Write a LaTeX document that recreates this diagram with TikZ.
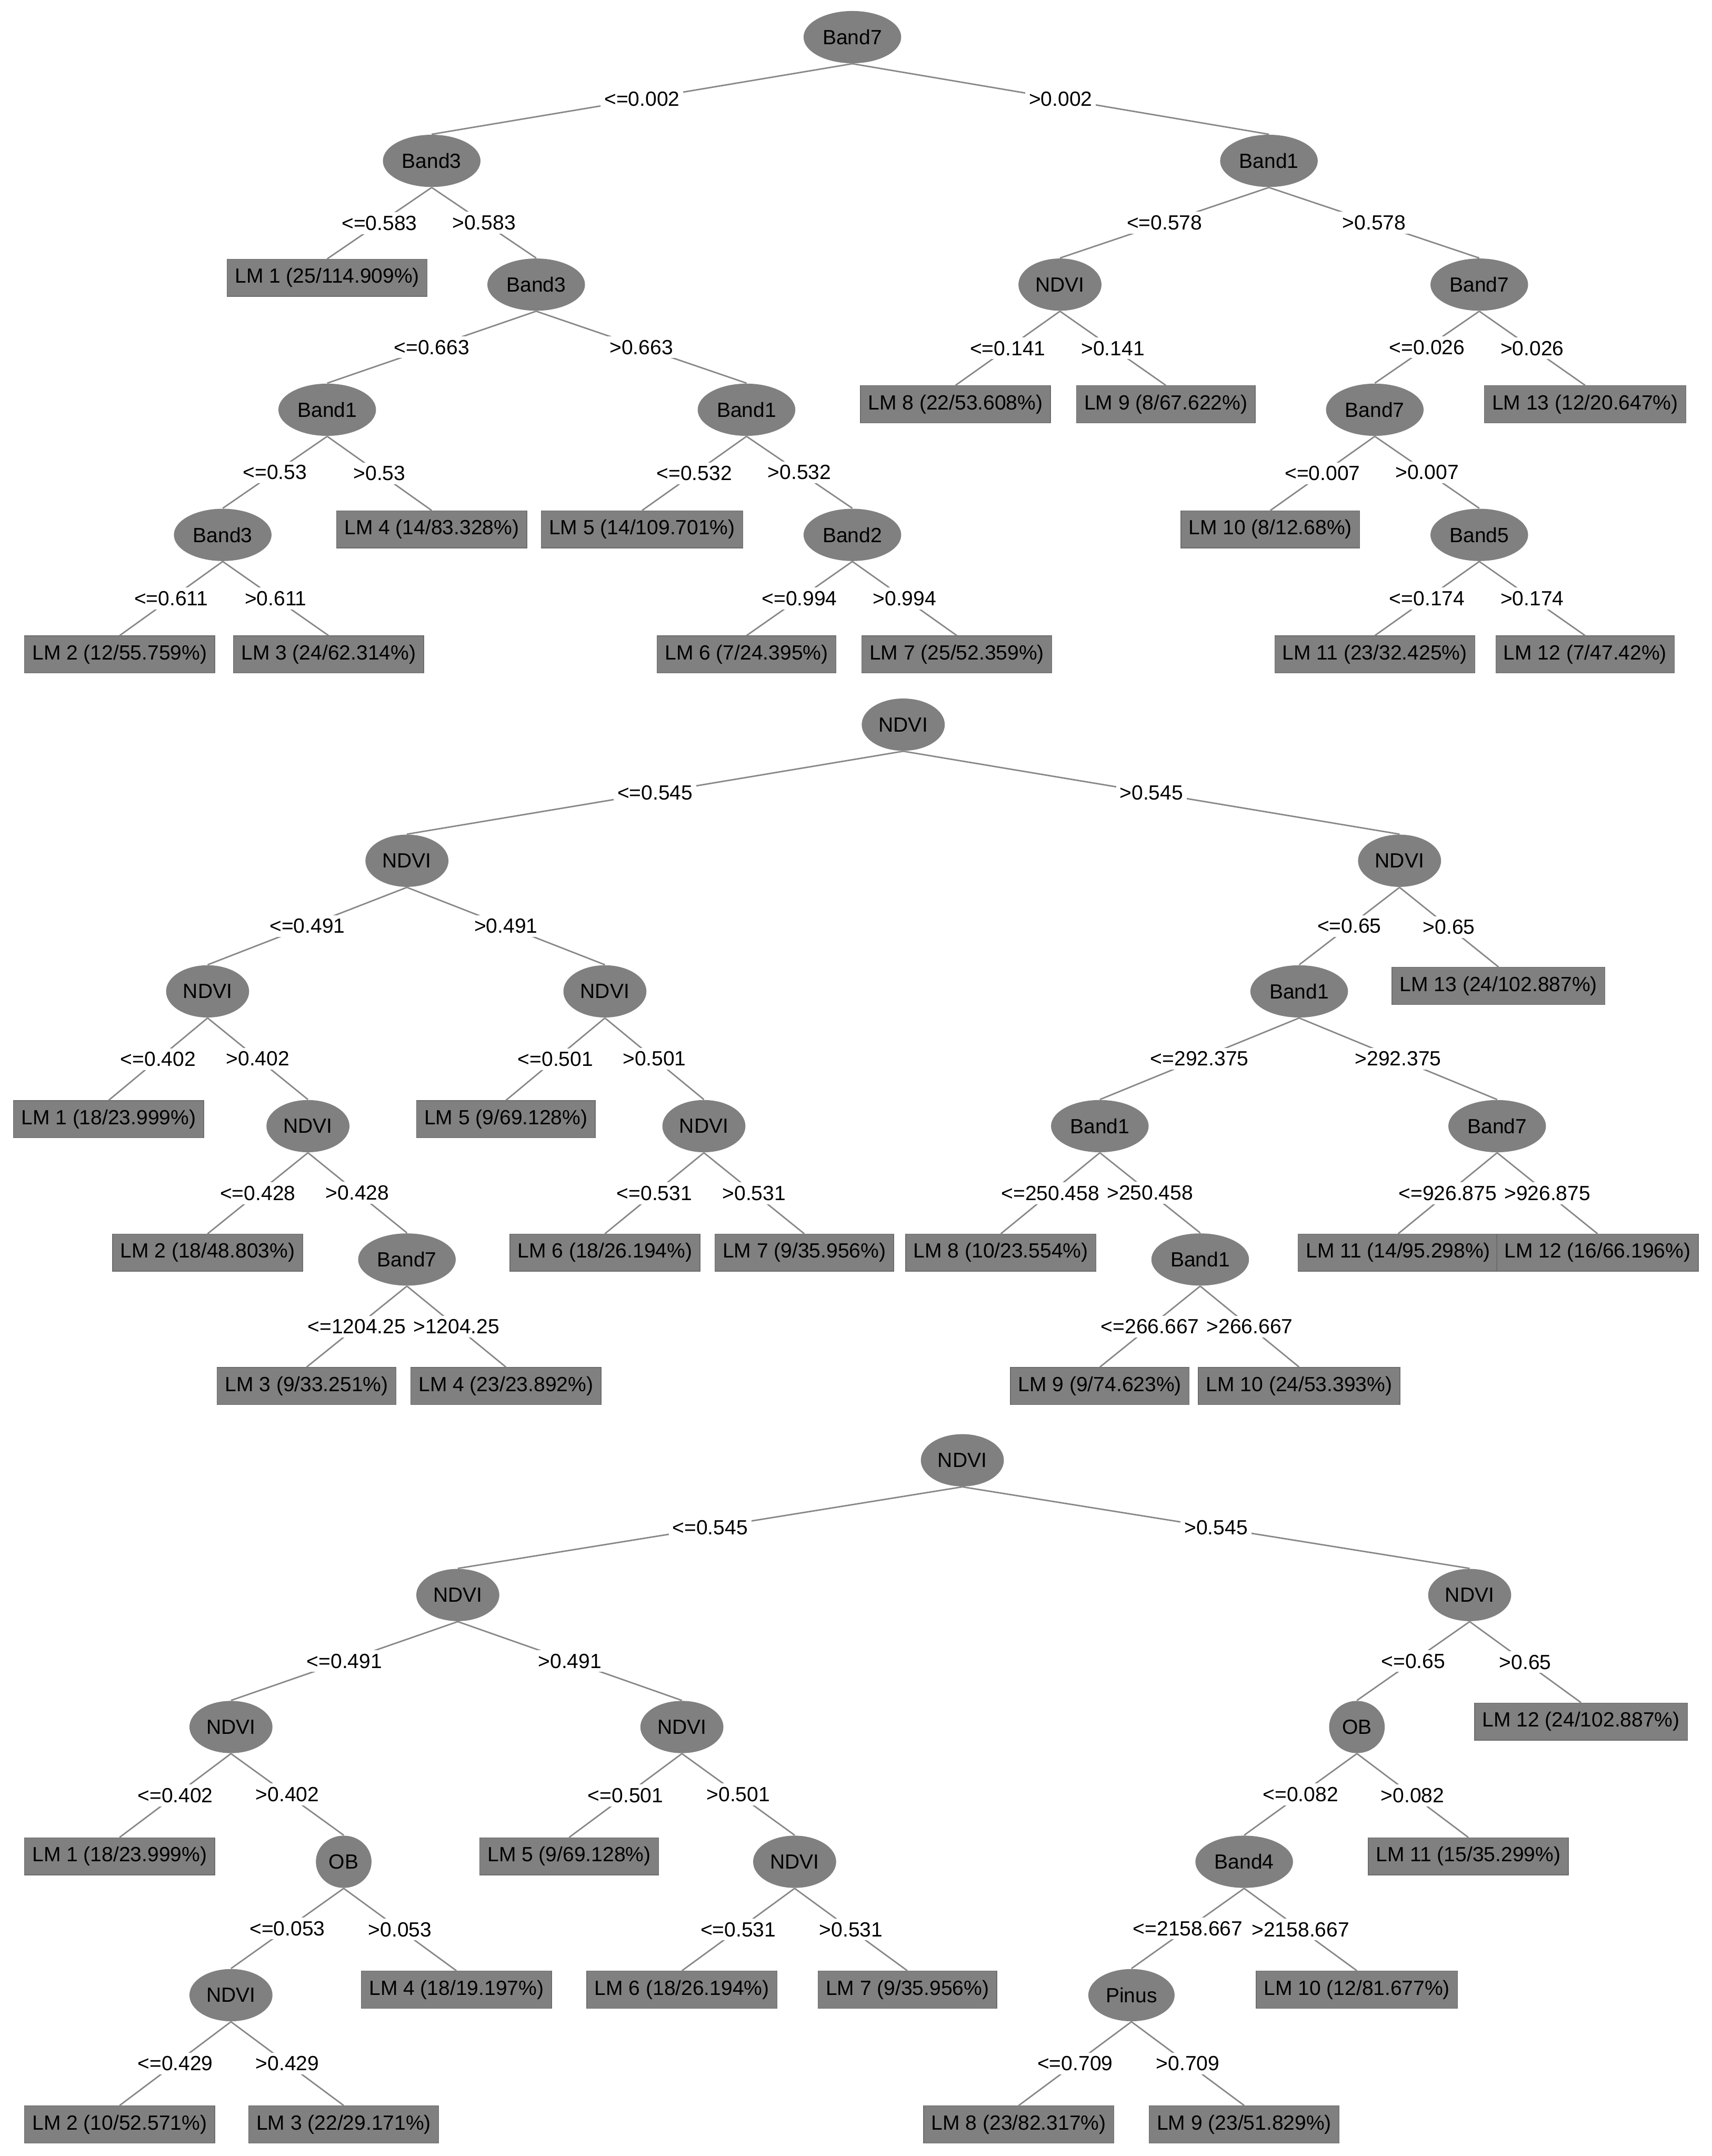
\documentclass[tikz,border=0pt]{standalone}
\usepackage{fontspec}
\setmainfont{Liberation Sans}
\usetikzlibrary{shapes.geometric}
\definecolor{nodegray}{RGB}{128,128,128}
\definecolor{edgegray}{RGB}{135,135,135}
\tikzset{
  splitnode/.style={ellipse, fill=nodegray, minimum height=0.76cm, minimum width=0.8cm, inner xsep=2pt, inner ysep=1pt},
  leafbox/.style={rectangle, fill=nodegray, draw=nodegray!85!black, line width=0.3pt, minimum height=0.54cm, inner xsep=3.2pt, inner ysep=1pt},
  branch/.style={edgegray, line width=0.6pt},
  condlabel/.style={fill=white, text=black, inner sep=1.5pt}
}
\begin{document}
\begin{tikzpicture}[x=0.02cm, y=-0.02cm, every node/.style={font=\fontsize{8.5}{10}\selectfont}]
  \useasboundingbox (0,0) rectangle (1245,1568);
  % first tree
  \node[splitnode] (a) at (620,27) {Band7};
  \node[splitnode] (al) at (314,117) {Band3};
  \node[splitnode] (ar) at (923,117) {Band1};
  \node[leafbox] (all) at (238,202) {LM 1 (25/114.909\%)};
  \node[splitnode] (alr) at (390,207) {Band3};
  \node[splitnode] (alrl) at (238,298) {Band1};
  \node[splitnode] (alrr) at (543,298) {Band1};
  \node[splitnode] (alrll) at (162,389) {Band3};
  \node[leafbox] (alrlr) at (314,385) {LM 4 (14/83.328\%)};
  \node[leafbox] (alrlll) at (87,476) {LM 2 (12/55.759\%)};
  \node[leafbox] (alrllr) at (239,476) {LM 3 (24/62.314\%)};
  \node[leafbox] (alrrl) at (467,385) {LM 5 (14/109.701\%)};
  \node[splitnode] (alrrr) at (620,389) {Band2};
  \node[leafbox] (alrrrl) at (543,476) {LM 6 (7/24.395\%)};
  \node[leafbox] (alrrrr) at (696,476) {LM 7 (25/52.359\%)};
  \node[splitnode] (arl) at (771,207) {NDVI};
  \node[splitnode] (arr) at (1076,207) {Band7};
  \node[leafbox] (arll) at (695,294) {LM 8 (22/53.608\%)};
  \node[leafbox] (arlr) at (848,294) {LM 9 (8/67.622\%)};
  \node[splitnode] (arrl) at (1000,298) {Band7};
  \node[leafbox] (arrr) at (1153,294) {LM 13 (12/20.647\%)};
  \node[leafbox] (arrll) at (924,385) {LM 10 (8/12.68\%)};
  \node[splitnode] (arrlr) at (1076,389) {Band5};
  \node[leafbox] (arrlrl) at (1000,476) {LM 11 (23/32.425\%)};
  \node[leafbox] (arrlrr) at (1153,476) {LM 12 (7/47.42\%)};
  \draw[branch] (a.south) -- node[condlabel] {<=0.002} (al.north);
  \draw[branch] (a.south) -- node[condlabel] {>0.002} (ar.north);
  \draw[branch] (al.south) -- node[condlabel] {<=0.583} (all.north);
  \draw[branch] (al.south) -- node[condlabel] {>0.583} (alr.north);
  \draw[branch] (alr.south) -- node[condlabel] {<=0.663} (alrl.north);
  \draw[branch] (alr.south) -- node[condlabel] {>0.663} (alrr.north);
  \draw[branch] (alrl.south) -- node[condlabel] {<=0.53} (alrll.north);
  \draw[branch] (alrl.south) -- node[condlabel] {>0.53} (alrlr.north);
  \draw[branch] (alrll.south) -- node[condlabel] {<=0.611} (alrlll.north);
  \draw[branch] (alrll.south) -- node[condlabel] {>0.611} (alrllr.north);
  \draw[branch] (alrr.south) -- node[condlabel] {<=0.532} (alrrl.north);
  \draw[branch] (alrr.south) -- node[condlabel] {>0.532} (alrrr.north);
  \draw[branch] (alrrr.south) -- node[condlabel] {<=0.994} (alrrrl.north);
  \draw[branch] (alrrr.south) -- node[condlabel] {>0.994} (alrrrr.north);
  \draw[branch] (ar.south) -- node[condlabel] {<=0.578} (arl.north);
  \draw[branch] (ar.south) -- node[condlabel] {>0.578} (arr.north);
  \draw[branch] (arl.south) -- node[condlabel] {<=0.141} (arll.north);
  \draw[branch] (arl.south) -- node[condlabel] {>0.141} (arlr.north);
  \draw[branch] (arr.south) -- node[condlabel] {<=0.026} (arrl.north);
  \draw[branch] (arr.south) -- node[condlabel] {>0.026} (arrr.north);
  \draw[branch] (arrl.south) -- node[condlabel] {<=0.007} (arrll.north);
  \draw[branch] (arrl.south) -- node[condlabel] {>0.007} (arrlr.north);
  \draw[branch] (arrlr.south) -- node[condlabel] {<=0.174} (arrlrl.north);
  \draw[branch] (arrlr.south) -- node[condlabel] {>0.174} (arrlrr.north);
  % second tree
  \node[splitnode] (b) at (657,527) {NDVI};
  \node[splitnode] (bl) at (296,626) {NDVI};
  \node[splitnode] (br) at (1018,626) {NDVI};
  \node[splitnode] (bll) at (151,721) {NDVI};
  \node[splitnode] (blr) at (440,721) {NDVI};
  \node[leafbox] (blll) at (79,814) {LM 1 (18/23.999\%)};
  \node[splitnode] (bllr) at (224,819) {NDVI};
  \node[leafbox] (bllrl) at (151,911) {LM 2 (18/48.803\%)};
  \node[splitnode] (bllrr) at (296,916) {Band7};
  \node[leafbox] (bllrrl) at (223,1008) {LM 3 (9/33.251\%)};
  \node[leafbox] (bllrrr) at (368,1008) {LM 4 (23/23.892\%)};
  \node[leafbox] (blrl) at (368,814) {LM 5 (9/69.128\%)};
  \node[splitnode] (blrr) at (512,819) {NDVI};
  \node[leafbox] (blrrl) at (440,911) {LM 6 (18/26.194\%)};
  \node[leafbox] (blrrr) at (585,911) {LM 7 (9/35.956\%)};
  \node[splitnode] (brl) at (945,721) {Band1};
  \node[leafbox] (brr) at (1090,717) {LM 13 (24/102.887\%)};
  \node[splitnode] (brll) at (800,819) {Band1};
  \node[splitnode] (brlr) at (1089,819) {Band7};
  \node[leafbox] (brlll) at (728,911) {LM 8 (10/23.554\%)};
  \node[splitnode] (brllr) at (873,916) {Band1};
  \node[leafbox] (brllrl) at (800,1008) {LM 9 (9/74.623\%)};
  \node[leafbox] (brllrr) at (945,1008) {LM 10 (24/53.393\%)};
  \node[leafbox] (brlrl) at (1017,911) {LM 11 (14/95.298\%)};
  \node[leafbox] (brlrr) at (1162,911) {LM 12 (16/66.196\%)};
  \draw[branch] (b.south) -- node[condlabel] {<=0.545} (bl.north);
  \draw[branch] (b.south) -- node[condlabel] {>0.545} (br.north);
  \draw[branch] (bl.south) -- node[condlabel] {<=0.491} (bll.north);
  \draw[branch] (bl.south) -- node[condlabel] {>0.491} (blr.north);
  \draw[branch] (bll.south) -- node[condlabel] {<=0.402} (blll.north);
  \draw[branch] (bll.south) -- node[condlabel] {>0.402} (bllr.north);
  \draw[branch] (bllr.south) -- node[condlabel] {<=0.428} (bllrl.north);
  \draw[branch] (bllr.south) -- node[condlabel] {>0.428} (bllrr.north);
  \draw[branch] (bllrr.south) -- node[condlabel] {<=1204.25} (bllrrl.north);
  \draw[branch] (bllrr.south) -- node[condlabel] {>1204.25} (bllrrr.north);
  \draw[branch] (blr.south) -- node[condlabel] {<=0.501} (blrl.north);
  \draw[branch] (blr.south) -- node[condlabel] {>0.501} (blrr.north);
  \draw[branch] (blrr.south) -- node[condlabel] {<=0.531} (blrrl.north);
  \draw[branch] (blrr.south) -- node[condlabel] {>0.531} (blrrr.north);
  \draw[branch] (br.south) -- node[condlabel] {<=0.65} (brl.north);
  \draw[branch] (br.south) -- node[condlabel] {>0.65} (brr.north);
  \draw[branch] (brl.south) -- node[condlabel] {<=292.375} (brll.north);
  \draw[branch] (brl.south) -- node[condlabel] {>292.375} (brlr.north);
  \draw[branch] (brll.south) -- node[condlabel] {<=250.458} (brlll.north);
  \draw[branch] (brll.south) -- node[condlabel] {>250.458} (brllr.north);
  \draw[branch] (brllr.south) -- node[condlabel] {<=266.667} (brllrl.north);
  \draw[branch] (brllr.south) -- node[condlabel] {>266.667} (brllrr.north);
  \draw[branch] (brlr.south) -- node[condlabel] {<=926.875} (brlrl.north);
  \draw[branch] (brlr.south) -- node[condlabel] {>926.875} (brlrr.north);
  % third tree
  \node[splitnode] (c) at (700,1062) {NDVI};
  \node[splitnode] (cl) at (333,1160) {NDVI};
  \node[splitnode] (cr) at (1069,1160) {NDVI};
  \node[splitnode] (cll) at (168,1256) {NDVI};
  \node[splitnode] (clr) at (496,1256) {NDVI};
  \node[leafbox] (clll) at (87,1350) {LM 1 (18/23.999\%)};
  \node[splitnode] (cllr) at (250,1354) {OB};
  \node[splitnode] (cllrl) at (168,1451) {NDVI};
  \node[leafbox] (cllrr) at (332,1447) {LM 4 (18/19.197\%)};
  \node[leafbox] (cllrll) at (87,1545) {LM 2 (10/52.571\%)};
  \node[leafbox] (cllrlr) at (250,1545) {LM 3 (22/29.171\%)};
  \node[leafbox] (clrl) at (414,1350) {LM 5 (9/69.128\%)};
  \node[splitnode] (clrr) at (578,1354) {NDVI};
  \node[leafbox] (clrrl) at (496,1447) {LM 6 (18/26.194\%)};
  \node[leafbox] (clrrr) at (660,1447) {LM 7 (9/35.956\%)};
  \node[splitnode] (crl) at (987,1256) {OB};
  \node[leafbox] (crr) at (1150,1252) {LM 12 (24/102.887\%)};
  \node[splitnode] (crll) at (905,1354) {Band4};
  \node[leafbox] (crlr) at (1068,1350) {LM 11 (15/35.299\%)};
  \node[splitnode] (crlll) at (823,1451) {Pinus};
  \node[leafbox] (crllr) at (987,1447) {LM 10 (12/81.677\%)};
  \node[leafbox] (crllll) at (741,1545) {LM 8 (23/82.317\%)};
  \node[leafbox] (crlllr) at (905,1545) {LM 9 (23/51.829\%)};
  \draw[branch] (c.south) -- node[condlabel] {<=0.545} (cl.north);
  \draw[branch] (c.south) -- node[condlabel] {>0.545} (cr.north);
  \draw[branch] (cl.south) -- node[condlabel] {<=0.491} (cll.north);
  \draw[branch] (cl.south) -- node[condlabel] {>0.491} (clr.north);
  \draw[branch] (cll.south) -- node[condlabel] {<=0.402} (clll.north);
  \draw[branch] (cll.south) -- node[condlabel] {>0.402} (cllr.north);
  \draw[branch] (cllr.south) -- node[condlabel] {<=0.053} (cllrl.north);
  \draw[branch] (cllr.south) -- node[condlabel] {>0.053} (cllrr.north);
  \draw[branch] (cllrl.south) -- node[condlabel] {<=0.429} (cllrll.north);
  \draw[branch] (cllrl.south) -- node[condlabel] {>0.429} (cllrlr.north);
  \draw[branch] (clr.south) -- node[condlabel] {<=0.501} (clrl.north);
  \draw[branch] (clr.south) -- node[condlabel] {>0.501} (clrr.north);
  \draw[branch] (clrr.south) -- node[condlabel] {<=0.531} (clrrl.north);
  \draw[branch] (clrr.south) -- node[condlabel] {>0.531} (clrrr.north);
  \draw[branch] (cr.south) -- node[condlabel] {<=0.65} (crl.north);
  \draw[branch] (cr.south) -- node[condlabel] {>0.65} (crr.north);
  \draw[branch] (crl.south) -- node[condlabel] {<=0.082} (crll.north);
  \draw[branch] (crl.south) -- node[condlabel] {>0.082} (crlr.north);
  \draw[branch] (crll.south) -- node[condlabel] {<=2158.667} (crlll.north);
  \draw[branch] (crll.south) -- node[condlabel] {>2158.667} (crllr.north);
  \draw[branch] (crlll.south) -- node[condlabel] {<=0.709} (crllll.north);
  \draw[branch] (crlll.south) -- node[condlabel] {>0.709} (crlllr.north);
\end{tikzpicture}
\end{document}
